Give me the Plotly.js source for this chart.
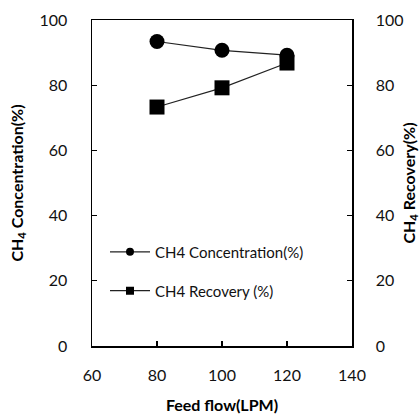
<!DOCTYPE html>
<html>
<head>
<script src="https://cdn.plot.ly/plotly-3.0.1.min.js"></script>
<style>html,body{margin:0;padding:0;background:#fff}#chart{width:420px;height:418px}</style>
</head>
<body>
<div id="chart"></div>
<script>
var feedFlow = [80, 100, 120];
var ch4Concentration = [93.4, 90.7, 89.2];
var ch4Recovery = [73.3, 79.2, 86.8];
var seriesNames = ['CH4 Concentration(%)', 'CH4 Recovery (%)'];
var yTicks = [0, 20, 40, 60, 80, 100];
var xTicks = [60, 80, 100, 120, 140];

var fontFam = 'Lato, "Open Sans", sans-serif';
var lineCol = '#222';

var traces = [
  {x: feedFlow, y: ch4Concentration, type: 'scatter', mode: 'lines+markers', name: seriesNames[0],
   showlegend: false, line: {color: lineCol, width: 1.2}, marker: {symbol: 'circle', size: 15, color: '#000'}},
  {x: feedFlow, y: ch4Recovery, type: 'scatter', mode: 'lines+markers', name: seriesNames[1], yaxis: 'y2',
   showlegend: false, line: {color: lineCol, width: 1.2}, marker: {symbol: 'square', size: 15, color: '#000'}},
  {x: [null], y: [null], type: 'scatter', mode: 'lines+markers', name: seriesNames[0], legend: 'legend',
   line: {color: lineCol, width: 1.2}, marker: {symbol: 'circle', size: 8, color: '#000'}},
  {x: [null], y: [null], type: 'scatter', mode: 'lines+markers', name: seriesNames[1], legend: 'legend2',
   line: {color: lineCol, width: 1.2}, marker: {symbol: 'square', size: 8, color: '#000'}}
];

var tickFont = {family: fontFam, size: 16, color: '#111'};
var titleFont = {family: fontFam, size: 16, color: '#000', weight: 'bold'};
var legFont = {family: fontFam, size: 15, color: '#111'};

var layout = {
  width: 420, height: 418,
  margin: {l: 92, r: 68, t: 20, b: 72},
  paper_bgcolor: '#fff', plot_bgcolor: '#fff',
  showlegend: true,
  legend: {x: 0.05, y: 0.288, xanchor: 'left', yanchor: 'middle', bgcolor: 'rgba(0,0,0,0)', font: legFont, itemwidth: 40},
  legend2: {x: 0.05, y: 0.169, xanchor: 'left', yanchor: 'middle', bgcolor: 'rgba(0,0,0,0)', font: legFont, itemwidth: 40},
  xaxis: {range: [60, 140], tickvals: xTicks, ticktext: xTicks.map(String), ticks: 'inside', ticklen: 5,
          tickcolor: '#000', tickwidth: 1.2, showgrid: false, zeroline: false, showline: true, linecolor: '#000',
          linewidth: 1.5, mirror: true, tickfont: tickFont, ticklabelstandoff: 14,
          title: {text: 'Feed flow(LPM)', font: titleFont, standoff: 17}},
  yaxis: {range: [0, 100], tickvals: yTicks, ticktext: yTicks.map(String), ticks: 'inside', ticklen: 5,
          tickcolor: '#000', tickwidth: 1.2, showgrid: false, zeroline: false, showline: true, linecolor: '#000',
          linewidth: 1.5, tickfont: tickFont, ticklabelstandoff: 20,
          title: {text: 'CH<sub>4</sub> Concentration(%)', font: titleFont, standoff: 12}},
  yaxis2: {range: [0, 100], overlaying: 'y', side: 'right', anchor: 'x', tickvals: yTicks, ticktext: yTicks.map(String),
           ticks: 'inside', ticklen: 5, tickcolor: '#000', tickwidth: 1.2, showgrid: false, zeroline: false,
           showline: true, linecolor: '#000', linewidth: 1.5, tickfont: tickFont, ticklabelstandoff: 19,
           title: {text: 'CH<sub>4</sub> Recovery(%)', font: titleFont, standoff: 6}}
};

Plotly.newPlot('chart', traces, layout, {displayModeBar: false, staticPlot: true});
</script>
</body>
</html>
